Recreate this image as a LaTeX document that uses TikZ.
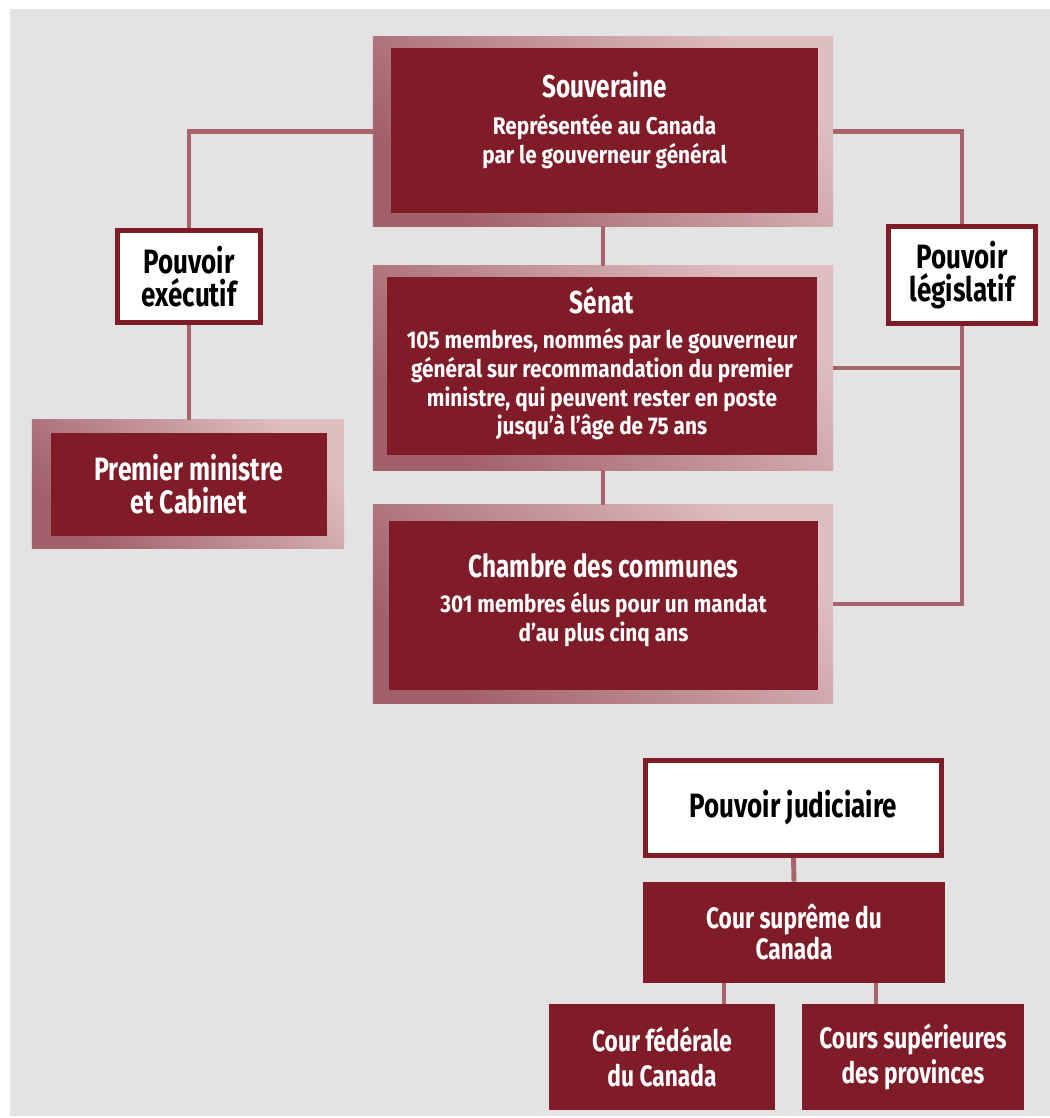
\documentclass[tikz,border=0pt]{standalone}
\usepackage{fontspec}
\setmainfont{Fira Sans}[FakeStretch=0.77]
\newfontfamily\bodyfont{Fira Sans}[FakeStretch=0.86]
\usetikzlibrary{positioning}
\definecolor{Maroon}{RGB}{128,27,40}
\definecolor{FrameDark}{RGB}{162,96,106}
\definecolor{FrameLight}{RGB}{222,190,193}
\definecolor{LinkRose}{RGB}{169,99,108}
\definecolor{PageGray}{RGB}{227,227,227}
\newcommand{\titlefont}{\rmfamily\bfseries\fontsize{22.5}{24}\selectfont}
\newcommand{\bodysize}{\fontsize{17.2}{20.3}\selectfont}
\newcommand{\branchsize}{\fontsize{24}{24}\selectfont}
\newcommand{\courtsize}{\fontsize{21}{22}\selectfont}
\tikzset{
  frame/.style={top color=FrameLight,bottom color=FrameDark,shading angle=-45,
    inner sep=0pt},
  darkbox/.style={fill=Maroon,inner sep=0pt,text=white,align=center,
    font=\bfseries\courtsize},
  branch/.style={draw=Maroon,line width=3.5pt,fill=white,inner sep=0pt,
    align=center,font=\bfseries\branchsize},
  boxtext/.style={text=white,align=center,inner sep=0pt,
    font=\bodyfont\bfseries\bodysize},
  link/.style={draw=LinkRose,line width=3.5pt}
}

\begin{document}
\begin{tikzpicture}[x=0.025cm,y=-0.025cm]
  \useasboundingbox (0,0) rectangle (1050,1118);
  \fill[PageGray] (10,9) rectangle (1050,1116);

  \node[frame,minimum width=11.5cm,minimum height=4.725cm] (souvframe) at (603,131.5) {};
  \node[frame,minimum width=11.5cm,minimum height=5.1cm] (senframe) at (603,368) {};
  \node[frame,minimum width=11.5cm,minimum height=4.95cm] (chframe) at (603,604) {};
  \node[frame,minimum width=7.8cm,minimum height=3.2cm] (pmframe) at (188,484) {};

  \node[darkbox,minimum width=10.675cm,minimum height=4.125cm] (souvin) at (604.5,130.5) {};
  \node[boxtext,below=0.6cm of souvin.north] (souvtext)
    {{\titlefont Souveraine}\\[6pt]Représentée au Canada\\par le gouverneur général};
  \node[darkbox,minimum width=10.75cm,minimum height=4.45cm] (senin) at (602,366) {};
  \node[boxtext,below=0.25cm of senin.north] (sentext)
    {{\titlefont Sénat}\\[5pt]105 membres, nommés par le gouverneur\\général sur recommandation du premier\\ministre, qui peuvent rester en poste\\jusqu’à l’âge de 75 ans};
  \node[darkbox,minimum width=10.725cm,minimum height=4.225cm] (chin) at (603.5,605.5) {};
  \node[boxtext,below=0.8cm of chin.north] (chtext)
    {{\titlefont Chambre des communes}\\[5pt]301 membres élus pour un mandat\\d’au plus cinq ans};
  \node[darkbox,minimum width=6.9cm,minimum height=2.575cm,
    font=\bfseries\fontsize{23}{21.5}\selectfont] (pm) at (189,484.5)
    {Premier ministre\\[2pt]et Cabinet};

  \node[branch,minimum width=3.575cm,minimum height=2.3cm] (exec) at (189,276.5) {Pouvoir\\exécutif};
  \node[branch,minimum width=3.675cm,minimum height=2.425cm] (legis) at (962,275) {Pouvoir\\législatif};
  \node[branch,minimum width=7.4cm,minimum height=2.375cm] (jud) at (793.5,808) {Pouvoir judiciaire};

  \node[darkbox,minimum width=7.55cm,minimum height=2.525cm] (supreme) at (794,932.5)
    {Cour suprême du\\Canada};
  \node[darkbox,minimum width=5.65cm,minimum height=2.65cm] (fed) at (662,1057)
    {Cour fédérale\\[3pt]du Canada};
  \node[darkbox,minimum width=5.55cm,minimum height=2.65cm] (prov) at (913,1057)
    {Cours supérieures\\[3pt]des provinces};

  \draw[link] (souvframe.west) -| (exec.north);
  \draw[link] (souvframe.east) -| (legis.north);
  \draw[link] (exec.south) -- (exec.south |- pmframe.north);
  \draw[link] (souvframe.south) -- (senframe.north);
  \draw[link] (senframe.south) -- (chframe.north);
  \draw[link] (legis.south) |- (chframe.east);
  \draw[link] (senframe.east) -- (senframe.east -| legis.south);
  \draw[link] (jud.south) -- (supreme.north);
  \draw[link] ([xshift=-1.75cm]supreme.south) -- ([xshift=-1.75cm]supreme.south |- fed.north);
  \draw[link] ([xshift=2.05cm]supreme.south) -- ([xshift=2.05cm]supreme.south |- prov.north);
\end{tikzpicture}
\end{document}
